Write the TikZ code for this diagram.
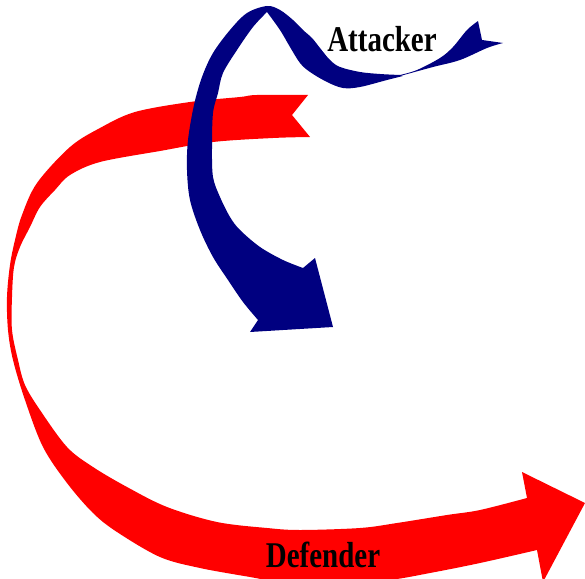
\documentclass[tikz,border=0pt]{standalone}
\usepackage{fontspec}
\usepackage{graphicx}
\setmainfont{Liberation Serif}
\usepackage{tikz}

\definecolor{defred}{RGB}{255,0,0}
\definecolor{attblue}{RGB}{0,0,128}

\begin{document}
\begin{tikzpicture}[
  x=0.01cm, y=-0.01cm,
  ribbon/.style={draw=none},
  lbl/.style={font=\fontsize{10.3}{12}\selectfont\bfseries, inner sep=0pt, anchor=base},
  every plot/.style={smooth, tension=0.55}
]
\useasboundingbox (0,0) rectangle (585,579);
\clip (0,0) rectangle (585,579);

% defender: swallowtail at the top, sweeping round to the right
\fill[ribbon, defred] (308,95) -- (292,115) -- (310,137)
  -- plot coordinates {(310,137) (273,138) (213,142) (160,151) (100,162) (70,175)
     (55,190) (40,207) (30,227) (20,247) (14,267) (12,297) (12,330) (18,360)
     (25,385) (40,410) (67,447) (93,467) (127,487) (167,507) (217,522) (267,528)
     (300,530) (360,528) (397,523) (447,515) (480,510) (527,498)}
  -- (522,472) -- (585,503) -- (543,582) -- (537,550)
  -- plot coordinates {(537,550) (480,563) (430,573) (390,580) (330,586) (280,582)
     (250,577) (200,568) (160,557) (117,532) (93,513) (67,483) (43,447) (25,400)
     (13,360) (8,330) (7,297) (10,265) (15,240) (22,215) (37,183) (70,147)
     (100,128) (135,112) (190,102) (240,97) (257,95) (308,95)}
  -- cycle;

% attacker: twisted tail on the right
\fill[ribbon, attblue] (400,75)
  -- plot coordinates {(400,75) (417,70) (440,58) (453,47) (467,30) (478,21)}
  -- (482,40) -- (503,43)
  -- plot coordinates {(503,43) (487,48) (460,60) (433,67) (400,76)}
  -- cycle;

% attacker: over the top and down into the head
\fill[ribbon, attblue] (400,75)
  -- plot coordinates {(400,75) (380,74) (360,72) (340,67) (330,60) (320,48)
     (312,38) (303,30) (293,20) (280,10) (267,6) (247,13) (230,30) (213,53)
     (202,77) (194,105) (188,140) (187,170) (190,200) (200,230) (213,257)
     (228,280) (243,302) (258,320)}
  -- (250,332) -- (333,327) -- (315,258) -- (303,268)
  -- plot coordinates {(303,268) (283,260) (260,247) (240,230) (230,217) (220,197)
     (213,177) (212,147) (213,113) (218,93) (223,73) (237,50) (253,27) (267,12)}
  -- plot coordinates {(267,12) (280,30) (290,47) (300,63) (310,72) (327,82)
     (343,88) (360,87) (387,80) (403,76)}
  -- cycle;

\node[lbl] (attacker) at (382,52) {\scalebox{0.8}[1]{Attacker}};
\node[lbl] (defender) at (323,567) {\scalebox{0.8}[1]{Defender}};
\end{tikzpicture}
\end{document}
